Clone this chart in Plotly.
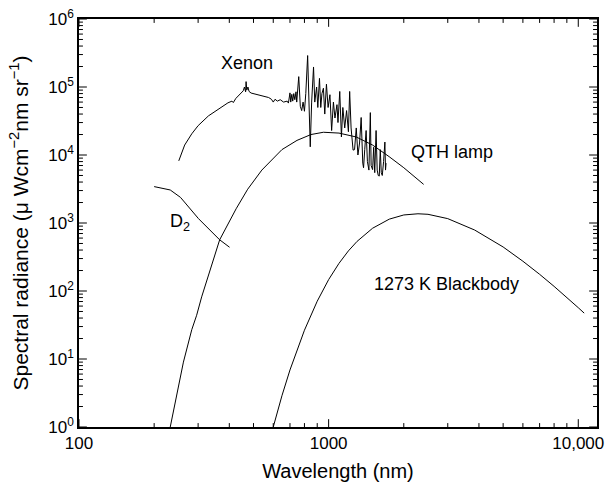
import plotly.graph_objects as go

# ---------------- data ----------------
xenon_wl = [251, 265, 283, 300, 330, 360, 395, 410, 415, 425, 435, 446, 455, 460, 465,
            467, 470, 475, 480, 489, 500, 520, 552, 575, 590, 600, 610, 623, 640, 660,
            682, 690, 700, 705, 712, 718, 725, 732, 740, 745, 759, 765, 770, 780, 790,
            800, 810, 824, 830, 835, 844, 855, 870, 880, 895, 905, 919, 930, 940, 953,
            965, 980, 995, 1012, 1028, 1045, 1060, 1080, 1090, 1108, 1125, 1140, 1160,
            1180, 1200, 1214, 1230, 1253, 1270, 1290, 1310, 1330, 1350, 1370, 1380,
            1395, 1413, 1430, 1450, 1469, 1480, 1500, 1515, 1530, 1549, 1565, 1580,
            1595, 1610, 1625, 1640, 1660, 1680, 1690, 1698]
xenon_val = [8.2e3, 1.4e4, 2.05e4, 2.7e4, 3.76e4, 4.7e4, 5.85e4, 6.2e4, 5.9e4, 6.8e4,
             7.5e4, 8.15e4, 8.8e4, 1.0e5, 8.5e4, 1.2e5, 9.0e4, 1.0e5, 8.6e4, 8.15e4,
             8.0e4, 7.6e4, 7.3e4, 7.0e4, 6.6e4, 6.0e4, 6.6e4, 6.2e4, 6.5e4, 6.0e4,
             6.2e4, 5.8e4, 8.2e4, 6.0e4, 7.8e4, 6.2e4, 8.0e4, 6.5e4, 8.5e4, 6.0e4,
             1.42e5, 6.5e4, 5.2e4, 4.5e4, 6.0e4, 4.4e4, 8.0e4, 2.9e5, 1.0e5, 4.0e4,
             1.32e4, 6.0e4, 1.97e5, 6.0e4, 1.0e5, 5.0e4, 1.34e5, 5.0e4, 8.0e4, 9.6e4,
             4.0e4, 1.1e5, 5.0e4, 7.7e4, 2.29e4, 6.0e4, 3.5e4, 5.5e4, 3.0e4, 8.6e4,
             1.84e4, 5.0e4, 2.5e4, 4.5e4, 2.2e4, 8.6e4, 2.5e4, 1.18e4, 1.2e4, 2.5e4,
             1.0e4, 1.5e4, 3.56e4, 7.6e3, 6.5e3, 1.2e4, 2.29e4, 8.0e3, 6.0e3, 4.2e4,
             7.0e3, 6.1e3, 1.3e4, 5.5e3, 2.29e4, 6.0e3, 5.0e3, 4.9e3, 1.2e4, 5.5e3,
             5.0e3, 8.0e3, 1.55e4, 6.0e3, 7.6e3]

qth_wl = [232, 247, 262, 283, 296, 310, 366, 426, 474, 540, 650, 747, 850, 953, 1100,
          1290, 1500, 1747, 2000, 2402]
qth_val = [1.0, 3.0, 9.0, 27, 44, 82, 566, 1617, 3140, 6000, 1.2e4, 1.64e4, 2.0e4,
           2.16e4, 2.1e4, 1.84e4, 1.4e4, 9.46e3, 6.5e3, 3.7e3]

d2_wl = [200, 232, 255, 301, 366, 401]
d2_val = [3430, 3060, 2380, 1160, 566, 440]

bb_wl = [600, 650, 700, 750, 800, 900, 1000, 1100, 1200, 1300, 1500, 1750, 2000, 2280,
         2500, 3000, 3846, 5000, 6000, 7000, 8000, 10000, 10560]
bb_val = [1.0, 2.88, 6.9, 14.3, 26.5, 70.8, 147, 255, 389, 537, 838, 1140, 1313, 1367,
          1342, 1159, 788, 444, 274, 176, 117, 56.8, 47.3]

x_major = [100, 1000, 10000]
x_major_text = ["100", "1000", "10,000"]
y_major = [1, 10, 100, 1000, 10000, 100000, 1000000]
y_major_text = ["10<sup>0</sup>", "10<sup>1</sup>", "10<sup>2</sup>", "10<sup>3</sup>",
                "10<sup>4</sup>", "10<sup>5</sup>", "10<sup>6</sup>"]
x_minor = [m * d for d in (100, 1000) for m in range(2, 10)]
y_minor = [m * 10 ** e for e in range(0, 6) for m in range(2, 10)]

labels = ["Xenon", "QTH lamp", "D<sub>2</sub>", "1273 K Blackbody"]

# ---------------- figure ----------------
FONT = "Liberation Sans, Arial, sans-serif"
line = dict(color="black", width=1)
X_RANGE = [2, 4.075]
Y_RANGE = [0, 6]

W, H = 611, 486
L, R, T, B = 79, 7, 16, 53
pw, ph = W - L - R, H - T - B

fig = go.Figure()
for wl, val, name in [(xenon_wl, xenon_val, "Xenon"), (qth_wl, qth_val, "QTH lamp"),
                      (d2_wl, d2_val, "D2"), (bb_wl, bb_val, "1273 K Blackbody")]:
    fig.add_trace(go.Scatter(x=wl, y=val, mode="lines", line=line, name=name,
                             showlegend=False, hoverinfo="skip"))

# inward tick marks on all four sides, drawn as short line segments whose length
# is converted from pixels into decades of each log axis
dec_per_px_x = (X_RANGE[1] - X_RANGE[0]) / pw
dec_per_px_y = (Y_RANGE[1] - Y_RANGE[0]) / ph


def x_ticks(vals, ln):
    xs, ys = [], []
    d = ln * dec_per_px_y
    for v in vals:
        xs += [v, v, None, v, v, None]
        ys += [10 ** Y_RANGE[0], 10 ** (Y_RANGE[0] + d), None,
               10 ** Y_RANGE[1], 10 ** (Y_RANGE[1] - d), None]
    return xs, ys


def y_ticks(vals, ln):
    xs, ys = [], []
    d = ln * dec_per_px_x
    for v in vals:
        xs += [10 ** X_RANGE[0], 10 ** (X_RANGE[0] + d), None,
               10 ** X_RANGE[1], 10 ** (X_RANGE[1] - d), None]
        ys += [v, v, None, v, v, None]
    return xs, ys


for xs, ys in [x_ticks(x_major, 8), x_ticks(x_minor, 4),
               y_ticks(y_major, 8), y_ticks(y_minor, 4)]:
    fig.add_trace(go.Scatter(x=xs, y=ys, mode="lines", connectgaps=False,
                             line=dict(color="black", width=1), showlegend=False,
                             hoverinfo="skip"))


def px(xp, yp):
    return (xp - L) / pw, (H - B - yp) / ph


ann = [
    (labels[0], 249, 61, "center"),
    (labels[1], 413, 152, "left"),
    (labels[2], 169, 224, "left"),
    (labels[3], 527, 287, "right"),
]
for text, xp, yp, anchor in ann:
    ax, ay = px(xp, yp)
    fig.add_annotation(x=ax, y=ay, xref="paper", yref="paper", text=text,
                       showarrow=False, xanchor=anchor, yanchor="middle",
                       font=dict(family=FONT, size=18, color="black"))

tickfont = dict(family=FONT, size=17, color="black")
axis = dict(type="log", tickmode="array", ticks="", showline=True, linecolor="black",
            linewidth=1.5, mirror=True, showgrid=False, zeroline=False,
            tickfont=tickfont)

fig.update_layout(
    xaxis=dict(**axis, range=X_RANGE, tickvals=x_major, ticktext=x_major_text,
               title=dict(text="Wavelength (nm)",
                          font=dict(family=FONT, size=20, color="black"), standoff=12)),
    yaxis=dict(**axis, range=Y_RANGE, tickvals=y_major, ticktext=y_major_text,
               title=dict(text="Spectral radiance (\u03bc Wcm<sup>\u22122</sup>nm sr<sup>\u22121</sup>)",
                          font=dict(family=FONT, size=21, color="black"), standoff=14)),
    width=W, height=H, margin=dict(l=L, r=R, t=T, b=B, pad=0),
    paper_bgcolor="white", plot_bgcolor="white",
    font=dict(family=FONT, color="black"),
)

fig.write_html("out.html")
